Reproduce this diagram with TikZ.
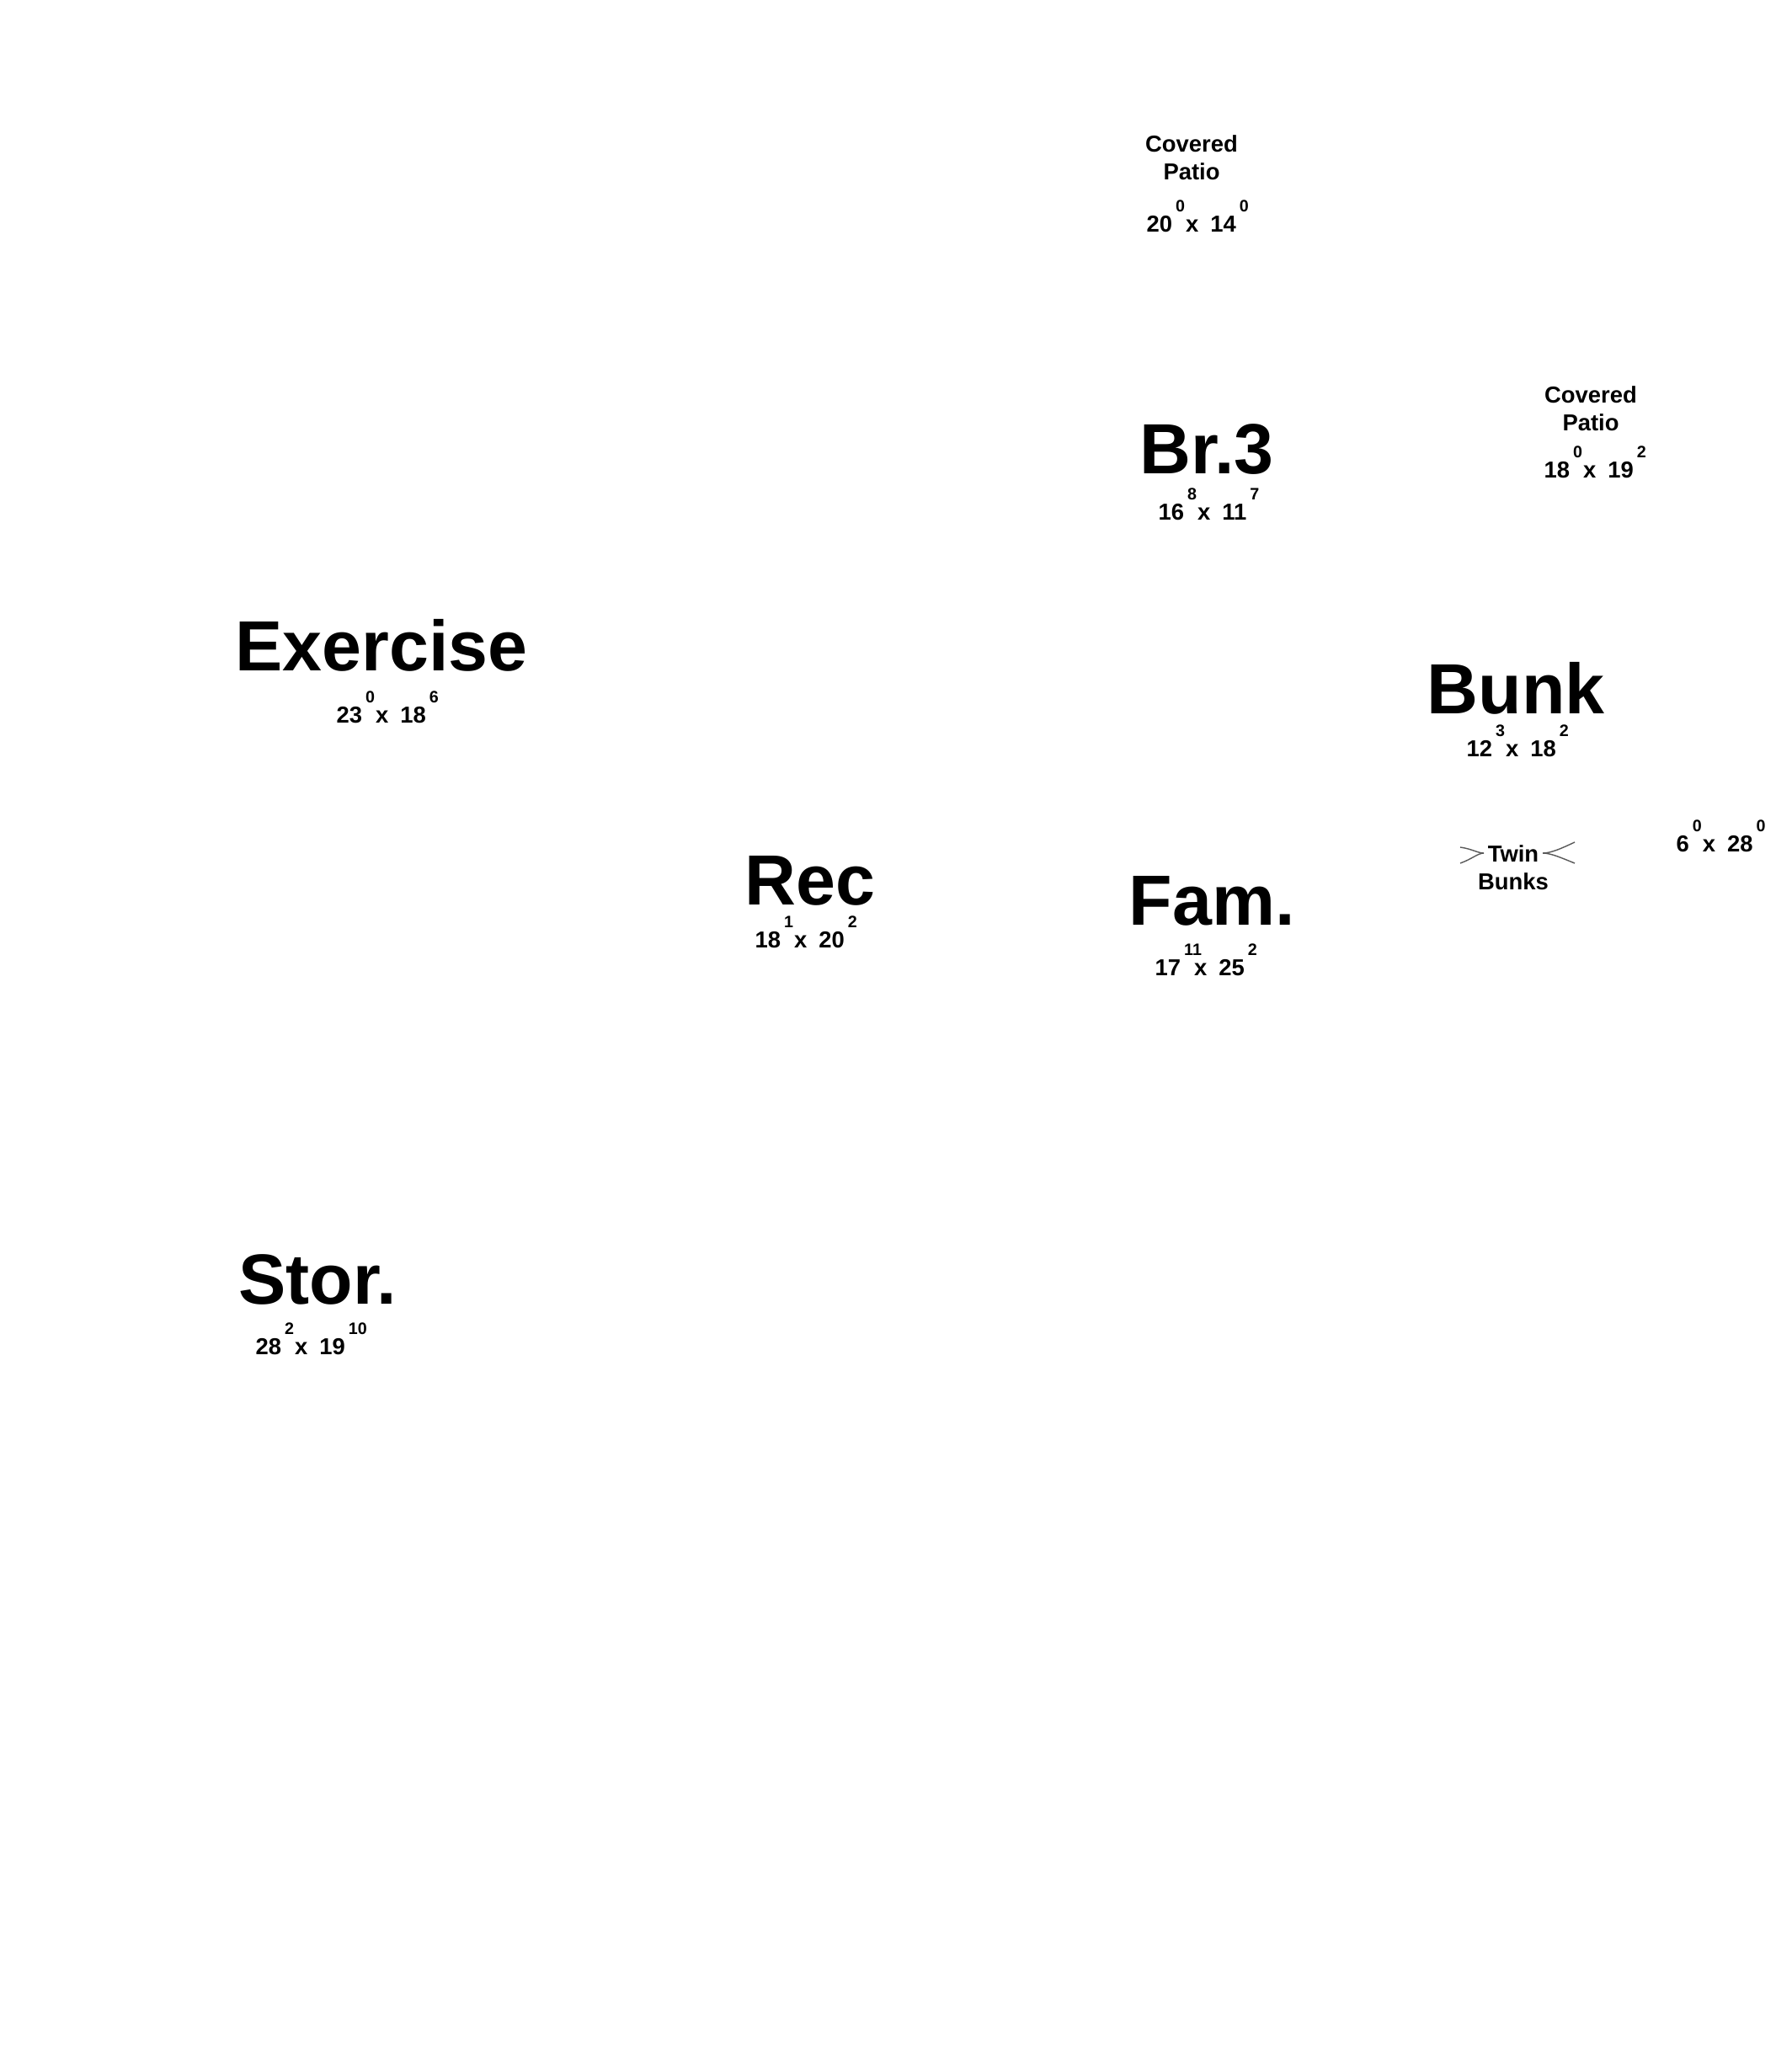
\documentclass[tikz,border=0pt]{standalone}
\usepackage{fontspec}
\setmainfont{Liberation Sans}
\usepackage{tikz}

\newcommand{\supfont}{\fontsize{5.6}{6}\selectfont}
\newcommand{\dimtext}[4]{#1\rlap{\hspace{0.04cm}\raisebox{0.24cm}{\supfont #2}}\hspace{0.16cm}x\hspace{0.14cm}#3\rlap{\hspace{0.04cm}\raisebox{0.24cm}{\supfont #4}}}

\begin{document}
\begin{tikzpicture}
\tikzstyle{every node}=[inner sep=0pt,font=\bfseries]
\tikzstyle{room}=[anchor=base,font=\fontsize{24}{28}\selectfont\bfseries]
\tikzstyle{dims}=[anchor=base west,font=\fontsize{7.8}{9.4}\selectfont\bfseries]
\tikzstyle{note}=[anchor=north,align=center,font=\fontsize{7.8}{9.4}\selectfont\bfseries]
\tikzstyle{bunkline}=[draw=gray!70!black,line width=0.4pt]
\useasboundingbox (0,0) rectangle (21.27,-24.33);
\node[note] (patioA) at (14.15,-1.60) {Covered\\Patio};
\node[dims] (patioAdim) at (13.61,-2.75) {\dimtext{20}{0}{14}{0}};
\node[room] (br) at (14.33,-5.62) {Br.3};
\node[dims] (brdim) at (13.75,-6.17) {\dimtext{16}{8}{11}{7}};
\node[note] (patioB) at (18.89,-4.58) {Covered\\Patio};
\node[dims] (patioBdim) at (18.33,-5.67) {\dimtext{18}{0}{19}{2}};
\node[room] (exercise) at (4.53,-7.96) {Exercise};
\node[dims] (exercisedim) at (3.99,-8.58) {\dimtext{23}{0}{18}{6}};
\node[room] (bunk) at (18.00,-8.47) {Bunk};
\node[dims] (bunkdim) at (17.41,-8.98) {\dimtext{12}{3}{18}{2}};
\node[note] (twin) at (17.97,-10.03) {Twin\\Bunks};
\node[dims] (sidedim) at (19.90,-10.11) {\dimtext{6}{0}{28}{0}};
\node[room] (rec) at (9.62,-10.74) {Rec};
\node[dims] (recdim) at (8.96,-11.25) {\dimtext{18}{1}{20}{2}};
\node[room] (fam) at (14.39,-10.98) {Fam.};
\node[dims] (famdim) at (13.71,-11.58) {\dimtext{17}{11}{25}{2}};
\node[room] (stor) at (3.77,-15.48) {Stor.};
\node[dims] (stordim) at (3.03,-16.08) {\dimtext{28}{2}{19}{10}};
\coordinate (twinL) at (17.62,-10.13);
\coordinate (twinR) at (18.32,-10.13);
\coordinate (twinLa) at (17.34,-10.06);
\coordinate (twinLb) at (17.34,-10.25);
\coordinate (twinRa) at (18.70,-10.00);
\coordinate (twinRb) at (18.70,-10.25);
\draw[bunkline] (twinLa) .. controls (17.48,-10.08) and (17.55,-10.13) .. (twinL);
\draw[bunkline] (twinLb) .. controls (17.48,-10.20) and (17.55,-10.13) .. (twinL);
\draw[bunkline] (twinR) .. controls (18.42,-10.13) and (18.55,-10.07) .. (twinRa);
\draw[bunkline] (twinR) .. controls (18.42,-10.13) and (18.55,-10.19) .. (twinRb);
\end{tikzpicture}
\end{document}
